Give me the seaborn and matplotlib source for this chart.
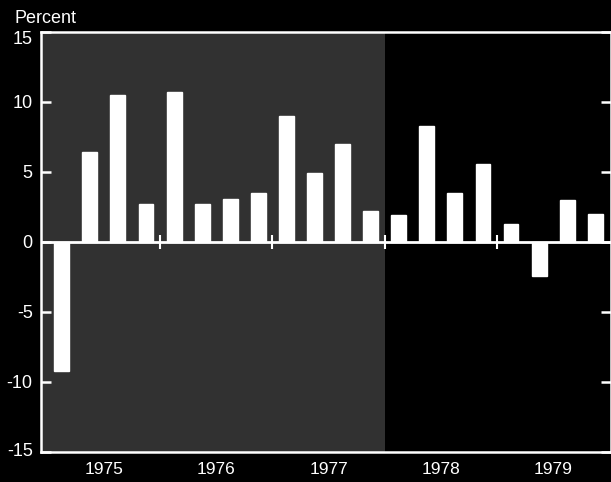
import numpy as np
import pandas as pd
import matplotlib
matplotlib.use('Agg')
import matplotlib.pyplot as plt
import matplotlib.transforms as mtransforms
import seaborn as sns

# Quarterly percent change, 1975Q1 - 1979Q4
years = ['1975', '1976', '1977', '1978', '1979']
quarters = [f'{y}Q{q}' for y in years for q in range(1, 5)]
values = [-9.2, 6.4, 10.5, 2.7,
          10.7, 2.7, 3.1, 3.5,
          9.0, 4.9, 7.0, 2.2,
          1.9, 8.3, 3.5, 5.6,
          1.3, -2.4, 3.0, 2.0]
yticks = [-15, -10, -5, 0, 5, 10, 15]

df = pd.DataFrame({'quarter': quarters, 'value': values})

sns.set_style('dark')
plt.rcParams['font.family'] = ['Liberation Sans', 'DejaVu Sans']

fig = plt.figure(figsize=(6.11, 4.82), dpi=100, facecolor='black')
ax = fig.add_axes([41 / 611, 30 / 482, 1 - 41 / 611, 420 / 482])
ax.set_facecolor('black')

n = len(quarters)
year_edges = np.arange(4, n, 4) - 0.5
year_mids = np.arange(len(years)) * 4 + 1.5

# shaded period (stippled grey in the original)
ax.axvspan(-0.8, year_edges[2], color='#313131', lw=0, zorder=0)

sns.barplot(data=df, x='quarter', y='value', order=quarters, color='white',
            saturation=1, width=0.53, ax=ax, zorder=3)

ax.axhline(0, color='white', lw=2, zorder=4)
ax.vlines(year_edges, -0.5, 0.5, color='white', lw=1.5, zorder=4)

ax.set_xlim(-0.74, n - 0.44)
ax.set_ylim(-15, 15)
ax.set_xlabel('')
ax.set_ylabel('')
ax.grid(False)

for side in ['left', 'top', 'bottom', 'right']:
    ax.spines[side].set_visible(True)
    ax.spines[side].set_color('white')
    ax.spines[side].set_linewidth(1.8)

ax.set_yticks(yticks)
ax.set_yticklabels([str(t) for t in yticks])
ax.tick_params(axis='y', which='major', direction='in', length=7, width=1.8,
               color='white', labelcolor='white', labelsize=13, pad=6,
               left=True, right=True, labelleft=True, labelright=False)

# end labels sit just inside the frame, as in the original
ylabels = ax.get_yticklabels()
ylabels[-1].set_transform(ylabels[-1].get_transform() +
                          mtransforms.ScaledTranslation(0, -5 / 100, fig.dpi_scale_trans))
ylabels[0].set_transform(ylabels[0].get_transform() +
                         mtransforms.ScaledTranslation(0, 3 / 100, fig.dpi_scale_trans))

ax.set_xticks(year_edges)
ax.set_xticklabels([])
ax.set_xticks(year_mids, minor=True)
ax.set_xticklabels(years, minor=True)
ax.tick_params(axis='x', which='major', direction='inout', length=14, width=1.5,
               color='white')
ax.tick_params(axis='x', which='minor', length=0, labelcolor='white',
               labelsize=12.5, pad=7)

fig.text(15 / 611, 1 - 23 / 482, 'Percent', color='white', fontsize=13,
         ha='left', va='baseline')

fig.savefig('out.png', dpi=100, facecolor='black')
